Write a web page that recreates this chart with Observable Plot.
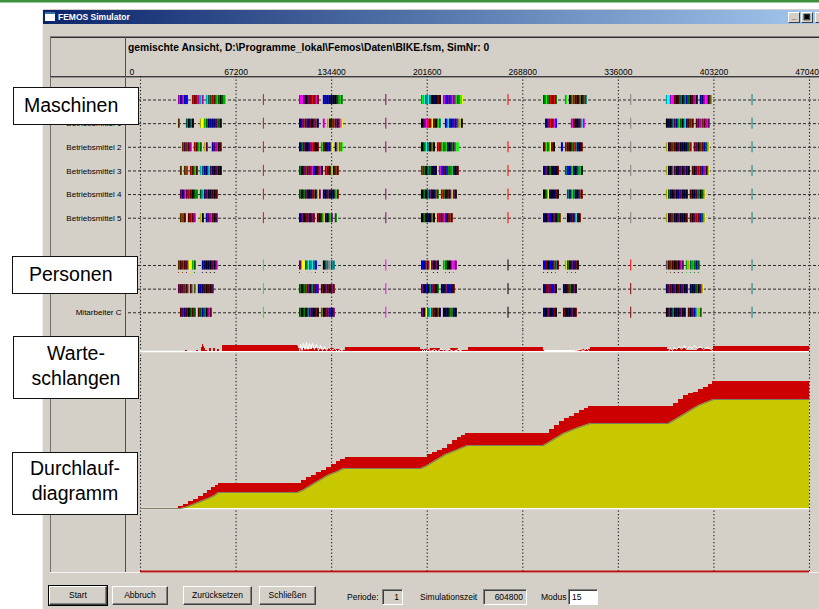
<!DOCTYPE html>
<html><head><meta charset="utf-8">
<script src="https://cdn.jsdelivr.net/npm/d3@7"></script>
<script src="https://cdn.jsdelivr.net/npm/@observablehq/plot@0.6"></script>
<style>
html,body{margin:0;padding:0;width:819px;height:609px;overflow:hidden;background:#fff;font-family:"Liberation Sans",Arial,sans-serif;color:#000;}
.a{position:absolute;box-sizing:border-box;}
#green{left:0;top:0;width:819px;height:3px;background:#3c8f3c;border-bottom:1px solid #9ccc9c;}
#win{left:42px;top:9px;width:800px;height:620px;background:#d4d0c8;border-left:1px solid #f0f0f0;}
#title{left:43px;top:10px;width:790px;height:14px;background:linear-gradient(to right,#0a246a,#a6caf0);color:#fff;font-weight:bold;font-size:8.5px;line-height:14px;padding-left:15px;}
#icon{left:45px;top:12px;width:10px;height:9px;background:#fff;border-top:2px solid #3a6ea5;}
.wb{top:12px;width:12px;height:11px;background:#d4d0c8;border:1px solid;border-color:#fff #404040 #404040 #fff;font-size:8px;line-height:8px;text-align:center;font-weight:bold;}
.hl{height:1px;}
.vl{width:1px;}
.box{background:#fff;border:1.5px solid #111;font-size:19.5px;z-index:5;}
.btn{top:586px;height:19px;background:#d4d0c8;border:1px solid;border-color:#fff #404040 #404040 #fff;box-shadow:inset -1px -1px #808080;font-size:8.5px;line-height:17px;text-align:center;}
.lbl{top:591px;font-size:8.5px;line-height:12px;}
.fld{top:589px;height:16px;border:1px solid;border-color:#808080 #fff #fff #808080;box-shadow:inset 1px 1px #404040;font-size:8.5px;line-height:14px;padding:0 3px;}
#hdr{left:128px;top:42px;font-size:10.3px;font-weight:bold;line-height:12px;white-space:nowrap;}
</style></head>
<body>
<div id="green" class="a"></div>
<div id="win" class="a"></div>
<div id="title" class="a">FEMOS Simulator</div>
<div id="icon" class="a"></div>
<div class="a wb" style="left:788px">_</div>
<div class="a wb" style="left:801px">&#x25A3;</div>
<div class="a wb" style="left:815px">x</div>

<div class="a hl" style="left:50px;top:36px;width:769px;background:#808080"></div>
<div class="a hl" style="left:50px;top:37px;width:769px;background:#303030"></div>
<div class="a vl" style="left:50px;top:37px;height:535px;background:#707070"></div>
<div class="a vl" style="left:125px;top:37px;height:535px;background:#505050"></div>
<div class="a hl" style="left:50px;top:76px;width:769px;background:#404040"></div>
<div class="a hl" style="left:50px;top:77px;width:769px;background:#909090"></div>
<div class="a hl" style="left:50px;top:572px;width:769px;background:#f4f4f4"></div>
<div id="hdr" class="a">gemischte Ansicht, D:\Programme_lokal\Femos\Daten\BIKE.fsm, SimNr: 0</div>

<div id="pa" class="a" style="left:50px;top:37px"></div>
<div id="pb" class="a" style="left:50px;top:330px"></div>
<div id="pc" class="a" style="left:50px;top:360px"></div>

<div class="a box" style="left:13px;top:87px;width:126px;height:38px;line-height:35px;padding-left:10px">Maschinen</div>
<div class="a box" style="left:12px;top:256px;width:126px;height:38px;line-height:35px;padding-left:16px">Personen</div>
<div class="a box" style="left:13px;top:336px;width:126px;height:63px;line-height:25px;padding-top:3.5px;text-align:center">Warte-<br>schlangen</div>
<div class="a box" style="left:12px;top:452px;width:126px;height:63px;line-height:25px;padding-top:2.5px;text-align:center">Durchlauf-<br>diagramm</div>

<div class="a btn" style="left:49px;width:58px;outline:1px solid #000">Start</div>
<div class="a btn" style="left:112px;width:56px">Abbruch</div>
<div class="a btn" style="left:183px;width:69px">Zurücksetzen</div>
<div class="a btn" style="left:259px;width:57px">Schließen</div>
<div class="a lbl" style="left:347px">Periode:</div>
<div class="a fld" style="left:382px;width:21px;text-align:right">1</div>
<div class="a lbl" style="left:420px">Simulationszeit</div>
<div class="a fld" style="left:483px;width:44px;text-align:right">604800</div>
<div class="a lbl" style="left:541px">Modus</div>
<div class="a fld" style="left:568px;width:30px;background:#fff">15</div>

<script>
// ---------- data ----------
const ticks = [0, 67200, 134400, 201600, 268800, 336000, 403200, 470400];
const rows = ["Betriebsmittel 0","Betriebsmittel 1","Betriebsmittel 2","Betriebsmittel 3","Betriebsmittel 4","Betriebsmittel 5","","Mitarbeiter A","Mitarbeiter B","Mitarbeiter C"];
// start time of the production clusters of each day, and time per pattern cell
const dayStart = [25300, 110400, 196200, 282000, 368400];
const cell = 1400;
// colour codes of the job bars per row and day ("." = idle)
const bm0 = [".mbmbb..rRrmcm.cCGrRgGkGg", ".mmMkMRrRmR..bBbkBkkGgG.", ".gcCcCkBkRk.mbMbmMgGgy..", ".GgGrRrG....g.kYoRkYkoC.", ".ccmmRkRCkCbGkRmk.bBmmkY"];
const bm1 = [".o...CkCk...yygGBbBBMGk.", ".BMoMBRkMoB..m.ykRoMkmy.", ".kMmrRyRkgC..bcBbMbYyk..", "..BMrRmb.......mRkBRcm..", ".kBkCMbgGkcBRoR.RMmoRmM."];
const bm2 = ["...oMoRm.rRgG.yM..bMmkR.", ".BGMkBMrRkR.gRkbBy.ByYg.", ".kGcCkYk.rRgGgBkGMgg....", ".RgGyRk...b.oRkGrCBkR...", ".yBRoRkMkBkBGr.RMkoRbCy."];
const bm3 = ["..o.oo.rRgR.cCbBcMBkMkk.", ".GkMoMRmbkRmk.rRkykoR...", ".oGkCGkBk.mbRbGGgBkR....", ".BMkGkBkR...CbBgBkCgk...", ".yBkwMkBMkMBk.RkMrRbmky."];
const bm4 = ["..MBmMrRkGG.GcBMkBRkR...", ".GkGMkBRoByM.BkMkBkgR...", ".kGkCMkBoG.rGkRByMk.....", ".kGyBkBRk....CBgCkBoR...", ".yGBkMkbMkBk.RkBRCkGy..."];
const bm5 = ["..ooR.RrRm..yk.bMmRkM...", ".BMkRMkMR.RkGyBkgM.G....", ".kGkBkYk.rMRmBRoR.......", ".BkMbkMkGo...kBRBckR....", ".yBRoBkMkBkR.RkMrRbCy..."];
const maA = [".oRoRMyygG...bBkBkMkm...", ".MyyGcCcCb...kCwlCC.....", ".bBoMyMkMk..gGkkmmM.....", ".bRkbBoCR...yGkMBRk.....", ".wRoRkRkmM.gyCgGbG......"];
const maB = [".MRMoRlRlY.BbBRkRkM.....", ".GkGoMkCRbM.RkMRkMR.....", ".MkbkCMRkG.BkMBbkR......", ".BRMRbMk...BkRGkMk......", ".BMRBMkRBMkB.BkBGkMy...."];
const maC = ["..RMbRkGRG.RGbCkmR......", ".GkGkCMBkRk.YkRMbkM.....", ".MkyCcoRkoB.kBkGGBk.....", ".BkMkBRk...RkBkMkR......", ".kMkCkBkMkB.RkMbcyG....."];
const rowPatterns = [bm0, bm1, bm2, bm3, bm4, bm5, null, maA, maB, maC];
// single short events around midnight of each day
const singleT = [86400, 172500, 258400, 344700, 430000];
const singleCodes = [["r","M","r","w","C"],["r","M",null,"w","C"],["r","M","r","w","C"],["r",null,"r","w","C"],["r","M","r","w","C"],["r","M","r","w","C"],null,["g","m","k","r","C"],["g","m","k","R","C"],["g","m","k","R","C"]];
const palette = {r:"#ff0000",R:"#800000",g:"#00ff00",G:"#008000",b:"#0000ff",B:"#000080",c:"#00ffff",C:"#008080",m:"#ff00ff",M:"#800080",y:"#ffff00",Y:"#808000",k:"#000000",o:"#804000",w:"#808080",l:"#c0c0c0"};

// Warteschlangen (queue length)
const qT = [0,31600,33000,39400,40800,42900,43600,44300,45000,45700,47100,48500,49900,51300,52700,54100,55500,57700,110400,111100,116000,120900,126600,132200,137100,140600,144100,196900,203900,210900,218000,223600,230600,283300,291800,302300,309400,316400,370500,377500,384600,391600,397200,402900,470400];
const qV = [0,1,0,1,0,4,7,5,3,1,0,3,0,3,0,2,0,6,5,3,2,3,2,3,2,1,4,2,3,1,3,1,4,1,0,1,2,4,2,3,1,3,2,5,5];
// fluctuating (white) queue trace during production
const wT = [111800,112500,113600,114600,115700,116700,117800,118800,119900,120900,122300,123700,125200,126600,128000,129400,130800,132200,134300,136400,138500,140600,142700, 197600,199000,200400,202500,203900,206700,208800,211600,213700,217300,220100,223600,226400, 284100,295300,305900,309400,311500,313600,315000, 371200,372600,374000,375400,376900,379000,380400,382500,383900,386000,387500,389500,391600,393700,395800,398000,400100,402200];
const wV = [0,7,1,8,2,9,2,8,3,8,2,7,1,6,1,5,1,4,1,3,0,2,0, 0,2,0,3,0,2,0,3,0,2,0,2,0, 1,1,1,2,1,3,1, 0,3,1,4,2,5,2,6,2,5,3,6,3,5,2,4,3,1];
const wZ = [...Array(23).fill(1), ...Array(13).fill(2), ...Array(7).fill(3), ...Array(18).fill(4)];

// Durchlaufdiagramm: cumulative output (yellow) and input (red)
const outT = [0,28100,31600,35200,38700,42200,45700,49200,52000,54800,110400,113900,117400,120900,124400,128000,131500,135000,138500,142700,196900,200400,203900,207400,210900,214400,218000,221500,225000,229900,283300,286900,290400,293900,297400,300900,304400,308000,312200,316400,371200,374800,378300,381800,385300,388800,392300,395800,399400,402900,470400];
const outV = [0,0,1,3,5,7,9,11,13,16,16,18,21,24,27,30,33,35,37,40,40,42,45,48,51,54,56,58,60,63,63,66,69,72,75,77,79,81,83,85,85,88,91,94,97,100,103,105,107,109,109];
const inT = [0,26700,30200,33700,37300,40800,44300,47100,49900,52700,54800,113200,116700,120200,123700,127300,130800,134300,137800,140600,144100,201800,205300,208800,212300,215900,219400,222900,225700,228500,287600,291100,294600,298100,301600,305100,308700,312200,315000,374800,378300,381800,385300,388800,392300,395800,399400,402200,470400];
const inV = [0,2,4,7,9,12,15,18,21,23,25,28,31,33,36,38,41,44,47,49,51,54,56,58,60,64,68,71,73,75,79,83,87,90,92,95,98,100,102,105,109,113,115,116,119,121,124,127,127];

// ---------- tables ----------
const segs = [];
rowPatterns.forEach((days, ri) => {
  if (!days) return;
  days.forEach((s, di) => {
    [...s].forEach((ch, i) => {
      if (ch === ".") return;
      segs.push({row: rows[ri], t0: dayStart[di] + i * cell, t1: dayStart[di] + (i + 1) * cell,
                 color: palette[ch], edge: i === 0 || s[i - 1] !== ch, k: i});
    });
  });
});
const singles = [];
singleCodes.forEach((codes, ri) => {
  if (!codes) return;
  codes.forEach((c, di) => { if (c) singles.push({row: rows[ri], t: singleT[di], color: palette[c]}); });
});
const queue = qT.map((t, i) => ({t, v: qV[i]}));
const white = wT.map((t, i) => ({t, v: wV[i], z: wZ[i]}));
const outp = outT.map((t, i) => ({t, v: outV[i]}));
const inp = inT.map((t, i) => ({t, v: inV[i]}));

// ---------- plots ----------
const tMin = ticks[0], tMax = ticks[ticks.length - 1];
const X = {domain: [tMin, tMax], range: [90, 759], axis: null};
const style = {fontFamily: '"Liberation Sans", Arial, sans-serif', fontSize: "8.5px", background: "transparent", color: "#000", overflow: "visible"};
const grid = () => Plot.ruleX(ticks, {stroke: "#1a1a1a", strokeWidth: 1.1, strokeDasharray: "1.2,2.3"});

const plotA = Plot.plot({
  width: 769, height: 293, marginTop: 39, marginBottom: 0, marginLeft: 78, marginRight: 0,
  x: X,
  y: {type: "band", domain: rows, range: [42.9, 294.9], padding: 0.66, round: false, axis: null},
  style,
  marks: [
    grid(),
    Plot.ruleY(rows.filter(d => d), {y: d => d, stroke: "#2a2a2a", strokeDasharray: "3,2"}),
    Plot.barX(segs, {x1: "t0", x2: "t1", y: "row", fill: "color", insetTop: -0.5, insetBottom: -0.5}),
    Plot.tickX(segs.filter(d => d.edge), {x: "t0", y: "row", stroke: "#000", strokeOpacity: 0.55, strokeWidth: 0.7, insetTop: -0.5, insetBottom: -0.5}),
    Plot.dot(segs.filter(d => d.row === "Mitarbeiter A" && d.k % 2 === 1), {x: "t0", y: "row", dy: 7, r: 0.6, fill: "color"}),
    Plot.tickX(singles, {x: "t", y: "row", stroke: "color", strokeWidth: 1, insetTop: -1.5, insetBottom: -1.5}),
    Plot.axisY({tickSize: 0, tickPadding: 7, fontSize: 8, label: null, fill: "#000"}),
    Plot.text(ticks.slice(1), {x: d => d, text: d => String(d), frameAnchor: "top", dy: -8}),
    Plot.text([String(ticks[0])], {text: d => d, frameAnchor: "top-left", textAnchor: "start", dy: -8, dx: 1})
  ]
});
document.getElementById("pa").append(plotA);

const plotB = Plot.plot({
  width: 769, height: 30, marginTop: 0, marginBottom: 0, marginLeft: 78, marginRight: 0,
  x: X, y: {domain: [-9, 21], range: [30, 0], axis: null}, style,
  marks: [
    grid(),
    Plot.ruleY([0], {x1: tMin, x2: tMax, stroke: "#ffffff", strokeWidth: 1.5}),
    Plot.areaY(queue, {x: "t", y: "v", curve: "step-after", fill: "#cc0000"}),
    Plot.lineY(white, {x: "t", y: "v", z: "z", stroke: "#ffffff", strokeWidth: 1})
  ]
});
document.getElementById("pb").append(plotB);

const plotC = Plot.plot({
  width: 769, height: 214, marginTop: 0, marginBottom: 3, marginLeft: 78, marginRight: 0,
  x: X, y: {domain: [-63, 148], range: [211, 0], axis: null}, style,
  marks: [
    grid(),
    Plot.ruleY([0], {x1: tMin, x2: tMax, stroke: "#ffffff", strokeWidth: 1.5}),
    Plot.areaY(inp, {x: "t", y: "v", curve: "step-after", fill: "#cc0000"}),
    Plot.areaY(outp, {x: "t", y: "v", fill: "#c8c800"}),
    Plot.lineY(outp, {x: "t", y: "v", stroke: "#7d8060", strokeWidth: 1.2}),
    Plot.ruleY([-63], {x1: tMin, x2: tMax, stroke: "#b81414", strokeWidth: 2})
  ]
});
document.getElementById("pc").append(plotC);
</script>
</body></html>
